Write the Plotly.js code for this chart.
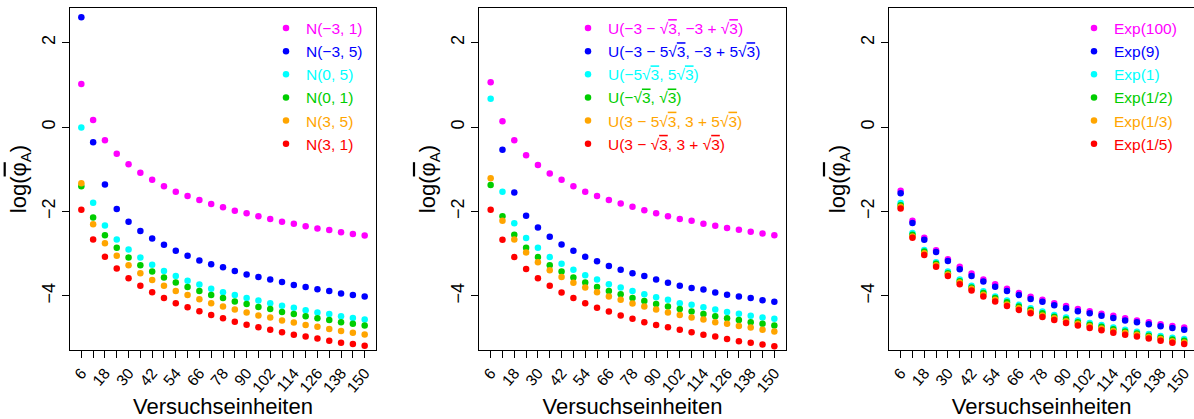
<!DOCTYPE html>
<html>
<head>
<meta charset="utf-8">
<script src="https://cdn.plot.ly/plotly-3.0.1.min.js"></script>
<style>html,body{margin:0;padding:0;background:#fff;}#plot{width:1194px;height:419px;}</style>
</head>
<body>
<div id="plot"></div>
<script>
// Sample sizes (x) and labelled ticks
const xVals = [6,12,18,24,30,36,42,48,54,60,66,72,78,84,90,96,102,108,114,120,126,132,138,144,150];
const xLabelled = [6,18,30,42,54,66,78,90,102,114,126,138,150];

const colors = ['#FF00FF','#0000FF','#00FFFF','#00CD00','#FFA500','#FF0000'];

// Panel 1: normal distributions
const namesN = ['N(\u22123, 1)','N(\u22123, 5)','N(0, 5)','N(0, 1)','N(3, 5)','N(3, 1)'];
const n_m3_1 = [1.02,0.17,-0.31,-0.63,-0.88,-1.08,-1.25,-1.40,-1.53,-1.63,-1.73,-1.82,-1.90,-1.98,-2.04,-2.11,-2.18,-2.24,-2.29,-2.35,-2.40,-2.44,-2.49,-2.53,-2.57];
const n_m3_5 = [2.60,-0.36,-1.36,-1.94,-2.24,-2.46,-2.64,-2.79,-2.93,-3.05,-3.16,-3.25,-3.32,-3.41,-3.49,-3.55,-3.61,-3.67,-3.74,-3.79,-3.84,-3.88,-3.94,-3.98,-4.01];
const n_0_5 = [-0.01,-1.79,-2.33,-2.66,-2.90,-3.09,-3.26,-3.41,-3.53,-3.64,-3.73,-3.83,-3.91,-3.98,-4.05,-4.11,-4.17,-4.23,-4.28,-4.34,-4.39,-4.43,-4.48,-4.52,-4.56];
const n_0_1 = [-1.40,-2.14,-2.56,-2.86,-3.09,-3.27,-3.42,-3.56,-3.68,-3.79,-3.88,-3.98,-4.05,-4.13,-4.19,-4.26,-4.31,-4.38,-4.43,-4.48,-4.53,-4.57,-4.62,-4.66,-4.70];
const n_3_5 = [-1.33,-2.30,-2.75,-3.05,-3.27,-3.46,-3.62,-3.76,-3.88,-3.98,-4.08,-4.17,-4.25,-4.32,-4.39,-4.46,-4.51,-4.58,-4.63,-4.69,-4.73,-4.78,-4.83,-4.87,-4.91];
const n_3_1 = [-1.96,-2.66,-3.07,-3.35,-3.58,-3.76,-3.91,-4.05,-4.17,-4.27,-4.36,-4.45,-4.53,-4.61,-4.68,-4.74,-4.80,-4.86,-4.92,-4.96,-5.01,-5.06,-5.11,-5.14,-5.18];

// Panel 2: uniform distributions
const OL = s => "<span style='text-decoration:overline'>" + s + "</span>";
const namesU = [
  'U(\u22123 \u2212 \u221A' + OL('3') + ', \u22123 + \u221A' + OL('3') + ')',
  'U(\u22123 \u2212 5\u221A' + OL('3') + ', \u22123 + 5\u221A' + OL('3') + ')',
  'U(\u22125\u221A' + OL('3') + ', 5\u221A' + OL('3') + ')',
  'U(\u2212\u221A' + OL('3') + ', \u221A' + OL('3') + ')',
  'U(3 \u2212 5\u221A' + OL('3') + ', 3 + 5\u221A' + OL('3') + ')',
  'U(3 \u2212 \u221A' + OL('3') + ', 3 + \u221A' + OL('3') + ')'
];
const u_m3_1 = [1.06,0.14,-0.31,-0.67,-0.90,-1.10,-1.25,-1.40,-1.53,-1.63,-1.73,-1.81,-1.89,-1.97,-2.04,-2.11,-2.18,-2.22,-2.29,-2.34,-2.39,-2.43,-2.48,-2.52,-2.56];
const u_m3_5 = [3.40,-0.54,-1.55,-2.10,-2.38,-2.60,-2.78,-2.93,-3.07,-3.18,-3.29,-3.38,-3.46,-3.53,-3.61,-3.69,-3.76,-3.81,-3.85,-3.92,-3.97,-4.01,-4.05,-4.10,-4.14];
const u_0_5 = [0.67,-1.53,-2.28,-2.63,-2.86,-3.08,-3.24,-3.38,-3.51,-3.61,-3.72,-3.80,-3.88,-3.96,-4.03,-4.09,-4.17,-4.21,-4.27,-4.32,-4.38,-4.42,-4.47,-4.51,-4.54];
const u_0_1 = [-1.37,-2.11,-2.55,-2.86,-3.08,-3.27,-3.42,-3.56,-3.68,-3.79,-3.88,-3.96,-4.05,-4.12,-4.19,-4.25,-4.31,-4.37,-4.43,-4.48,-4.53,-4.57,-4.62,-4.66,-4.70];
const u_3_5 = [-1.21,-2.22,-2.66,-2.97,-3.20,-3.39,-3.55,-3.69,-3.80,-3.91,-4.01,-4.09,-4.18,-4.25,-4.32,-4.39,-4.45,-4.51,-4.56,-4.62,-4.66,-4.71,-4.75,-4.80,-4.84];
const u_3_1 = [-1.96,-2.67,-3.08,-3.36,-3.58,-3.76,-3.92,-4.05,-4.17,-4.28,-4.37,-4.46,-4.54,-4.62,-4.69,-4.74,-4.80,-4.86,-4.92,-4.96,-5.02,-5.07,-5.11,-5.15,-5.19];

// Panel 3: exponential distributions
const namesE = ['Exp(100)','Exp(9)','Exp(1)','Exp(1/2)','Exp(1/3)','Exp(1/5)'];
const e_100 = [-1.51,-2.22,-2.62,-2.92,-3.13,-3.31,-3.47,-3.61,-3.72,-3.83,-3.93,-4.02,-4.09,-4.17,-4.24,-4.31,-4.36,-4.42,-4.47,-4.53,-4.58,-4.62,-4.67,-4.71,-4.75];
const e_9 = [-1.57,-2.27,-2.67,-2.96,-3.17,-3.37,-3.53,-3.66,-3.78,-3.88,-3.98,-4.07,-4.14,-4.22,-4.29,-4.36,-4.41,-4.47,-4.52,-4.58,-4.62,-4.67,-4.72,-4.76,-4.80];
const e_1 = [-1.80,-2.51,-2.91,-3.20,-3.42,-3.61,-3.76,-3.89,-4.01,-4.11,-4.21,-4.29,-4.37,-4.45,-4.51,-4.58,-4.64,-4.69,-4.75,-4.80,-4.85,-4.90,-4.95,-4.99,-5.02];
const e_half = [-1.85,-2.55,-2.95,-3.24,-3.46,-3.65,-3.80,-3.93,-4.05,-4.15,-4.25,-4.33,-4.41,-4.49,-4.55,-4.62,-4.68,-4.73,-4.79,-4.84,-4.89,-4.94,-4.99,-5.03,-5.06];
const e_third = [-1.89,-2.59,-2.99,-3.27,-3.49,-3.68,-3.83,-3.97,-4.09,-4.20,-4.29,-4.37,-4.46,-4.53,-4.60,-4.66,-4.72,-4.77,-4.83,-4.88,-4.92,-4.97,-5.02,-5.07,-5.10];
const e_fifth = [-1.93,-2.62,-3.03,-3.31,-3.53,-3.72,-3.87,-4.01,-4.13,-4.24,-4.33,-4.41,-4.50,-4.57,-4.64,-4.70,-4.76,-4.81,-4.87,-4.92,-4.96,-5.01,-5.06,-5.11,-5.14];

const panels = [
  {names: namesN, series: [n_m3_1,n_m3_5,n_0_5,n_0_1,n_3_5,n_3_1]},
  {names: namesU, series: [u_m3_1,u_m3_5,u_0_5,u_0_1,u_3_5,u_3_1]},
  {names: namesE, series: [e_100,e_9,e_1,e_half,e_third,e_fifth]}
];

const xTitle = 'Versuchseinheiten';
const yTitle = "log(<span style='text-decoration:overline'>\u03C6</span><span style='font-size:15px;baseline-shift:-5px'>A</span>)";

const FONT = 'Liberation Sans, Arial, Helvetica, sans-serif';
const W = 1194, H = 419;
const traces = [];
panels.forEach((p, pi) => {
  const sfx = pi === 0 ? '' : String(pi + 1);
  p.series.forEach((ys, si) => {
    traces.push({
      type: 'scatter', mode: 'markers',
      x: xVals, y: ys,
      xaxis: 'x' + sfx, yaxis: 'y' + sfx,
      legend: 'legend' + sfx,
      name: "<span style='color:" + colors[si] + "'>" + p.names[si] + "</span>",
      marker: {color: colors[si], size: 6.5},
      cliponaxis: true,
      hoverinfo: 'skip'
    });
  });
});

const domains = [[70/W, 376/W], [479.3/W, 785.7/W], [889.3/W, 1]];
const xRanges = [[0.24, 155.76], [0.24, 155.76], [0.24, 154.97]];

function xAxis(i) {
  return {
    domain: domains[i], range: xRanges[i], anchor: i === 0 ? 'y' : 'y' + (i + 1),
    tickmode: 'array', tickvals: xLabelled, ticktext: xLabelled.map(String),
    ticks: 'outside', ticklen: 7, tickwidth: 1, tickcolor: '#000',
    minor: {tickmode: 'array', tickvals: xVals, ticks: 'outside', ticklen: 7, tickwidth: 1, tickcolor: '#000', showgrid: false},
    tickangle: -50, tickfont: {family: FONT, size: 15.5, color: '#000'},
    title: {text: xTitle, font: {family: FONT, size: 22, color: '#000'}, standoff: 5},
    automargin: false,
    showline: true, linecolor: '#000', linewidth: 1, mirror: true,
    showgrid: false, zeroline: false, fixedrange: true
  };
}
function yAxis(i) {
  return {
    domain: [0, 1], range: [-5.28, 2.82], anchor: i === 0 ? 'x' : 'x' + (i + 1),
    tickmode: 'array', tickvals: [-4, -2, 0, 2], ticktext: ['\u22124', '\u22122', '0', '2'],
    ticks: 'outside', ticklen: 7, tickwidth: 1, tickcolor: '#000',
    tickangle: -90, tickfont: {family: FONT, size: 18, color: '#000'},
    title: {text: yTitle, font: {family: FONT, size: 22, color: '#000'}, standoff: 6},
    automargin: false,
    showline: true, linecolor: '#000', linewidth: 1, mirror: i === 2 ? false : true,
    showgrid: false, zeroline: false, fixedrange: true
  };
}
function legendAt(xpx) {
  return {
    x: xpx / W, xanchor: 'left', y: 0.99, yanchor: 'top',
    bgcolor: 'rgba(0,0,0,0)', borderwidth: 0,
    font: {family: FONT, size: 15.5, color: '#000'},
    itemwidth: 30, tracegroupgap: 0, itemclick: false, itemdoubleclick: false
  };
}

const layout = {
  width: W, height: H,
  margin: {l: 0, r: 0, t: 8, b: 69, pad: 0},
  paper_bgcolor: '#fff', plot_bgcolor: '#fff',
  showlegend: true,
  xaxis: xAxis(0), yaxis: yAxis(0),
  xaxis2: xAxis(1), yaxis2: yAxis(1),
  xaxis3: xAxis(2), yaxis3: yAxis(2),
  legend: legendAt(266), legend2: legendAt(568), legend3: legendAt(1074),
  font: {family: FONT, color: '#000'}
};

Plotly.newPlot('plot', traces, layout, {displayModeBar: false, staticPlot: true});
</script>
</body>
</html>
